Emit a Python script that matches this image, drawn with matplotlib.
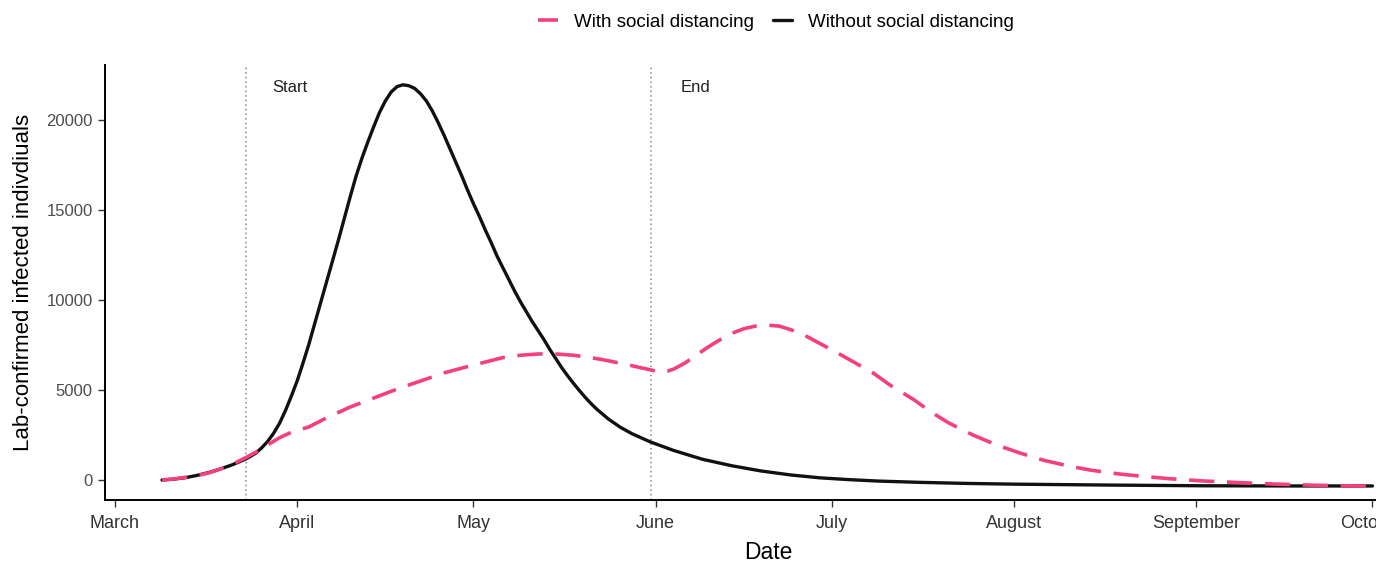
import matplotlib
matplotlib.use('Agg')
import matplotlib.pyplot as plt
import matplotlib.dates as mdates
import numpy as np
import pandas as pd

plt.rcParams['font.family'] = ['Liberation Sans', 'DejaVu Sans']

start_date = pd.Timestamp('2020-03-01')

# days since 1 March
days_without = [8, 10, 12, 14, 16, 18, 20, 22, 23, 24, 25, 26, 27, 28, 29, 30,
                31, 32, 33, 34, 35, 36, 37, 38, 39, 40, 41, 42, 43, 44, 45, 46,
                47, 48, 49, 50, 51, 52, 53, 54, 55, 56, 57, 58, 59, 60, 61, 62,
                63, 64, 65, 66, 67, 68, 69, 70, 71, 72, 73, 74, 75, 76, 77, 78,
                79, 80, 81, 82, 84, 86, 88, 91, 95, 100, 105, 110, 115, 120,
                125, 130, 137, 145, 153, 169, 185, 200, 214]
cases_without = [0, 50, 130, 260, 420, 620, 850, 1130, 1300, 1500, 1800, 2150,
                 2600, 3150, 3850, 4650, 5500, 6500, 7550, 8700, 9850, 11000,
                 12150, 13300, 14500, 15700, 16850, 17850, 18750, 19600, 20400,
                 21050, 21550, 21850, 21950, 21900, 21750, 21450, 21050, 20500,
                 19850, 19150, 18400, 17650, 16900, 16100, 15350, 14650, 13900,
                 13200, 12450, 11800, 11150, 10500, 9900, 9350, 8800, 8300,
                 7800, 7250, 6750, 6250, 5800, 5380, 4980, 4600, 4250, 3930,
                 3380, 2930, 2570, 2130, 1650, 1150, 790, 500, 280, 120, 20,
                 -60, -130, -190, -230, -280, -320, -330, -330]

days_with = [8, 10, 12, 14, 16, 18, 20, 22, 24, 26, 28, 30, 33, 36, 40, 44, 48,
             52, 56, 60, 63, 66, 69, 72, 75, 78, 81, 84, 87, 89, 91, 92, 93, 94,
             95, 96, 97, 99, 101, 103, 105, 107, 109, 111, 113, 115, 117, 119,
             121, 123, 126, 129, 132, 136, 139, 142, 146, 150, 154, 158, 162,
             166, 171, 176, 180, 185, 191, 197, 204, 211, 214]
cases_with = [0, 60, 150, 250, 400, 620, 880, 1200, 1550, 1950, 2350, 2650, 2950,
              3450, 4050, 4550, 5050, 5500, 5950, 6300, 6550, 6800, 6930, 7000,
              7000, 6930, 6800, 6620, 6420, 6270, 6130, 6050, 6020, 6050, 6150,
              6320, 6500, 6950, 7400, 7800, 8150, 8400, 8550, 8600, 8550, 8350,
              8100, 7750, 7400, 7050, 6500, 5950, 5250, 4450, 3750, 3150, 2500,
              1950, 1500, 1100, 800, 550, 330, 170, 60, -50, -140, -220, -290,
              -330, -330]

sd_start = 22.3   # Start of social distancing
sd_end = 91.2     # End of social distancing

def to_dates(d):
    return start_date + pd.to_timedelta(np.array(d, dtype=float), unit='D')

fig = plt.figure(figsize=(13.76, 5.64), dpi=100)
ax = fig.add_axes([105 / 1376, 1 - 500 / 564, 1 - 105 / 1376, (500 - 65) / 564])

pink = '#f4407d'
ax.axvline(to_dates([sd_start])[0], color='#888888', ls=(0, (1, 2)), lw=1.1)
ax.axvline(to_dates([sd_end])[0], color='#888888', ls=(0, (1, 2)), lw=1.1)

ax.plot(to_dates(days_without), cases_without, color='#111111', lw=2.4,
        label='Without social distancing', solid_capstyle='round',
        solid_joinstyle='round')
ax.plot(to_dates(days_with), cases_with, color=pink, lw=2.6,
        dashes=(7, 3.5), label='With social distancing')

ax.text(to_dates([26.7])[0], 21800, 'Start', fontsize=12, va='center', color='#222222')
ax.text(to_dates([96.2])[0], 21800, 'End', fontsize=12, va='center', color='#222222')

ax.set_xlim(to_dates([-1.7])[0], to_dates([214.6])[0])
ax.set_ylim(-1110, 23050)
ax.set_yticks([0, 5000, 10000, 15000, 20000])
ax.xaxis.set_major_locator(mdates.MonthLocator())
ax.xaxis.set_major_formatter(mdates.DateFormatter('%B'))

for s in ['top', 'right']:
    ax.spines[s].set_visible(False)
for s in ['left', 'bottom']:
    ax.spines[s].set_linewidth(1.4)
ax.tick_params(axis='both', colors='#333333', length=5, width=1)
ax.tick_params(axis='x', labelsize=13, pad=6)
ax.tick_params(axis='y', labelsize=12, labelcolor='#4d4d4d', pad=4)

ax.set_xlabel('Date', fontsize=16.5)
ax.xaxis.set_label_coords(0.522, -0.095)
ax.set_ylabel('Lab-confirmed infected indivdiuals', fontsize=16)
ax.yaxis.set_label_coords(-0.056, 0.5)

h, l = ax.get_legend_handles_labels()
fig.legend(h[::-1], l[::-1], loc='center', bbox_to_anchor=(0.564, 0.961), ncol=2,
           frameon=False, fontsize=13.5, handlelength=1.05, columnspacing=1.0,
           handletextpad=0.85)

fig.savefig('out.png', dpi=100)
